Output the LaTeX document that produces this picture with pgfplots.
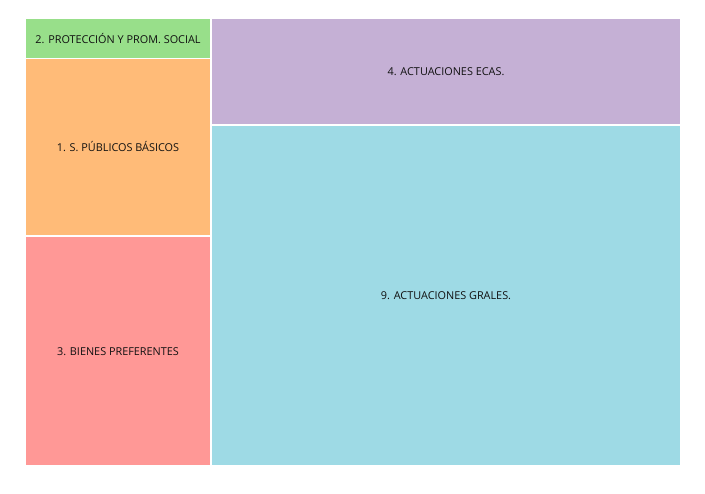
\documentclass[border=0pt]{standalone}
\usepackage{pgfplots}
\pgfplotsset{compat=1.18}
\usepackage{fontspec}
\setmainfont{Open Sans}
\definecolor{cgreen}{HTML}{98DF8A}
\definecolor{corange}{HTML}{FFBB78}
\definecolor{cred}{HTML}{FF9896}
\definecolor{cpurple}{HTML}{C5B0D5}
\definecolor{ccyan}{HTML}{9EDAE5}
\definecolor{ctext}{HTML}{111111}
\begin{document}
\begin{tikzpicture}[x=1bp,y=1bp]
\useasboundingbox (0,0) rectangle (705,494);
\begin{axis}[
  at={(25bp,28bp)}, anchor=south west,
  scale only axis, width=656bp, height=448bp,
  xmin=0, xmax=656, ymin=0, ymax=448, y dir=reverse,
  hide axis, clip=false,
  every axis plot/.append style={draw=white, line width=1.6bp},
]
\addplot[fill=cgreen, draw=white] coordinates {(0,0) (186,0) (186,40.5) (0,40.5)} --cycle;
\addplot[fill=corange, draw=white] coordinates {(0,40.5) (186,40.5) (186,218) (0,218)} --cycle;
\addplot[fill=cred, draw=white] coordinates {(0,218) (186,218) (186,448) (0,448)} --cycle;
\addplot[fill=cpurple, draw=white] coordinates {(186,0) (656,0) (656,107) (186,107)} --cycle;
\addplot[fill=ccyan, draw=white] coordinates {(186,107) (656,107) (656,448) (186,448)} --cycle;
\begin{scope}[every node/.style={font=\fontsize{10.9}{13}\selectfont, text=ctext, inner sep=0pt}]
\node at (axis cs:93,20.5) {2. PROTECCIÓN Y PROM. SOCIAL};
\node at (axis cs:93,129) {1. S. PÚBLICOS BÁSICOS};
\node at (axis cs:93,333.5) {3. BIENES PREFERENTES};
\node at (axis cs:421,53.5) {4. ACTUACIONES ECAS.};
\node at (axis cs:421,277.5) {9. ACTUACIONES GRALES.};
\end{scope}
\end{axis}
\end{tikzpicture}
\end{document}
